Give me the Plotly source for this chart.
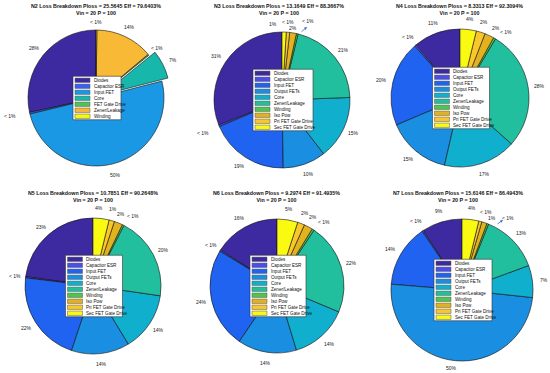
import math
import plotly.graph_objects as go

W, H = 550, 373
FONT = "Liberation Sans"

categories_7 = ["Diodes", "Capacitor ESR", "Input FET", "Core", "FET Gate Drive",
                "Zener/Leakage", "Winding"]
categories_10 = ["Diodes", "Capacitor ESR", "Input FET", "Output FETs", "Core",
                 "Zener/Leakage", "Winding", "Iso Pow", "Pri FET Gate Drive",
                 "Sec FET Gate Drive"]

colors_7 = ["#3d2aa0", "#3b5ff0", "#1b98e4", "#17b7ab", "#52c252", "#f8b936", "#f9f910"]
colors_10 = ["#3d2aa0", "#4a4eea", "#1f63f0", "#1a8ee0", "#10afce", "#22bf9e",
             "#4fc44f", "#e2b21f", "#f9c72a", "#f9f912"]

names = ["N2", "N3", "N4", "N5", "N6", "N7"]
ploss = ["25.5645", "13.1649", "8.3313", "10.7851", "9.2974", "15.6146"]
eff = ["79.6403", "88.3667", "92.3094", "90.2648", "91.4935", "86.4943"]

n2_values = [28.4, 0.4, 50.2, 6.8, 0.3, 13.7, 0.2]
n2_pull = [0, 0, 0, 0.1, 0, 0, 0]
n3_values = [31.0, 0.4, 18.9, 10.2, 15.1, 20.6, 0.4, 1.6, 0.8, 1.0]
n4_values = [11.0, 0.4, 20.0, 15.0, 17.0, 28.0, 0.5, 2.2, 2.1, 3.8]
n5_values = [22.8, 0.3, 21.8, 13.8, 14.0, 19.8, 0.4, 2.0, 1.3, 3.8]
n6_values = [16.0, 0.3, 24.2, 14.2, 14.0, 22.0, 0.5, 2.1, 1.7, 5.0]
n7_values = [9.2, 0.3, 14.2, 49.6, 7.3, 13.3, 0.4, 1.2, 0.7, 3.8]

# panel layout in pixels: pie centre, radius, legend width, title centre,
# plus hand nudges of crowded percentage labels {slice index: (dx, dy)}
panels = [
    dict(vals=n2_values, cats=categories_7, cols=colors_7, pull=n2_pull,
         cx=96, cy=98, r=68, lw=48, tx=96, ty=9,
         nudge={1: (-9, 0), 6: (0, 3)}),
    dict(vals=n3_values, cats=categories_10, cols=colors_10, pull=None,
         cx=282, cy=100, r=68, lw=60, tx=279, ty=9,
         nudge={1: (-6, 3), 9: (-11, 3), 8: (-1, 1), 7: (-2, 6), 6: (8, -2)},
         arrow=(307, 27, 300, 33)),
    dict(vals=n4_values, cats=categories_10, cols=colors_10, pull=None,
         cx=460, cy=98, r=69, lw=57, tx=460, ty=9,
         nudge={7: (2, 2), 6: (6, 3)}),
    dict(vals=n5_values, cats=categories_10, cols=colors_10, pull=None,
         cx=93, cy=286, r=68, lw=57, tx=93, ty=196.5,
         nudge={9: (-3, 0), 8: (-2, -1), 7: (-1.5, 1), 6: (5, 1)}),
    dict(vals=n6_values, cats=categories_10, cols=colors_10, pull=None,
         cx=277, cy=286, r=67, lw=56, tx=276, ty=196.5,
         nudge={6: (5, 1)}),
    dict(vals=n7_values, cats=categories_10, cols=colors_10, pull=None,
         cx=462, cy=290, r=71, lw=58, tx=458, ty=196.5,
         nudge={8: (3, 2), 7: (4, 6), 6: (16, 5), 3: (-3, -4)},
         arrow=(503, 220, 496, 225)),
]

LABEL_R = 1.16


def px(x):
    return x / W


def py(y):
    return 1 - y / H


fig = go.Figure()
shapes = []
annotations = []

for name, pl, ef, p in zip(names, ploss, eff, panels):
    vals = p["vals"]
    tot = sum(vals)
    pulls = p["pull"] if p["pull"] else [0] * len(vals)
    labels = ["< 1%" if v / tot * 100 < 1 else f"{round(v / tot * 100)}%" for v in vals]
    half = p["r"] * (1 + max(pulls))
    # MATLAB style: first slice starts at 12 o'clock and runs counter-clockwise
    rot = -360.0 * vals[0] / tot
    fig.add_trace(go.Pie(
        labels=p["cats"], values=vals, textinfo="none",
        sort=False, direction="counterclockwise",
        rotation=rot, pull=pulls,
        marker=dict(colors=p["cols"], line=dict(color="#111111", width=0.6)),
        showlegend=False, hoverinfo="label+percent",
        domain=dict(x=[px(p["cx"] - half), px(p["cx"] + half)],
                    y=[py(p["cy"] + half), py(p["cy"] - half)]),
    ))
    # percentage labels at the slice mid-angle, just outside the pie
    cum = 0.0
    for i, (v, lab) in enumerate(zip(vals, labels)):
        th = 2 * math.pi * (cum + v / 2) / tot
        cum += v
        R = p["r"] * (LABEL_R + pulls[i])
        dx, dy = p["nudge"].get(i, (0, 0))
        lx = p["cx"] - R * math.sin(th) + dx
        ly = p["cy"] - R * math.cos(th) + dy
        annotations.append(dict(
            x=px(lx), y=py(ly), xref="paper", yref="paper", text=lab,
            showarrow=False, xanchor="center", yanchor="middle",
            font=dict(family=FONT, size=5, color="#222222")))
    # title
    annotations.append(dict(
        x=px(p["tx"]), y=py(p["ty"]), xref="paper", yref="paper",
        text=f"<b>{name} Loss Breakdown Ploss = {pl} Eff = {ef}%<br>Vin = 20 P = 100</b>",
        showarrow=False, font=dict(family=FONT, size=5.3, color="#111111"),
        xanchor="center", yanchor="middle", align="center"))
    # legend box
    n = len(p["cats"])
    rh = 6.0
    lh = n * rh + 1.5
    left = p["cx"] + 1 - p["lw"] / 2
    top = p["cy"] - lh / 2
    shapes.append(dict(type="rect", xref="paper", yref="paper",
                       x0=px(left), x1=px(left + p["lw"]),
                       y0=py(top), y1=py(top + lh),
                       fillcolor="white", line=dict(color="#333333", width=0.6)))
    for i, (c, col) in enumerate(zip(p["cats"], p["cols"])):
        yt = top + 1 + i * rh
        shapes.append(dict(type="rect", xref="paper", yref="paper",
                           x0=px(left + 2), x1=px(left + 17),
                           y0=py(yt + 0.8), y1=py(yt + rh - 0.8),
                           fillcolor=col, line=dict(color="#555555", width=0.5)))
        annotations.append(dict(
            x=px(left + 18.5), y=py(yt + rh / 2), xref="paper", yref="paper",
            text=c, showarrow=False, xanchor="left", yanchor="middle",
            font=dict(family=FONT, size=4.6, color="#111111")))
    # small blue arrow drawn on the original figure
    if "arrow" in p:
        hx, hy, tx_, ty_ = p["arrow"]
        annotations.append(dict(
            x=px(hx), y=py(hy), xref="paper", yref="paper", text="",
            showarrow=True, ax=tx_ - hx, ay=ty_ - hy, arrowcolor="#2f6fd6",
            arrowwidth=0.8, arrowhead=2, arrowsize=0.7))

fig.update_layout(
    width=W, height=H, margin=dict(l=0, r=0, t=0, b=0),
    paper_bgcolor="white", plot_bgcolor="white",
    shapes=shapes, annotations=annotations,
    font=dict(family=FONT),
)

fig.write_html(
    "out.html",
    config={"displayModeBar": False},
    post_script="document.body.style.margin='0';document.body.style.padding='0';"
                "document.body.style.overflow='hidden';",
)
